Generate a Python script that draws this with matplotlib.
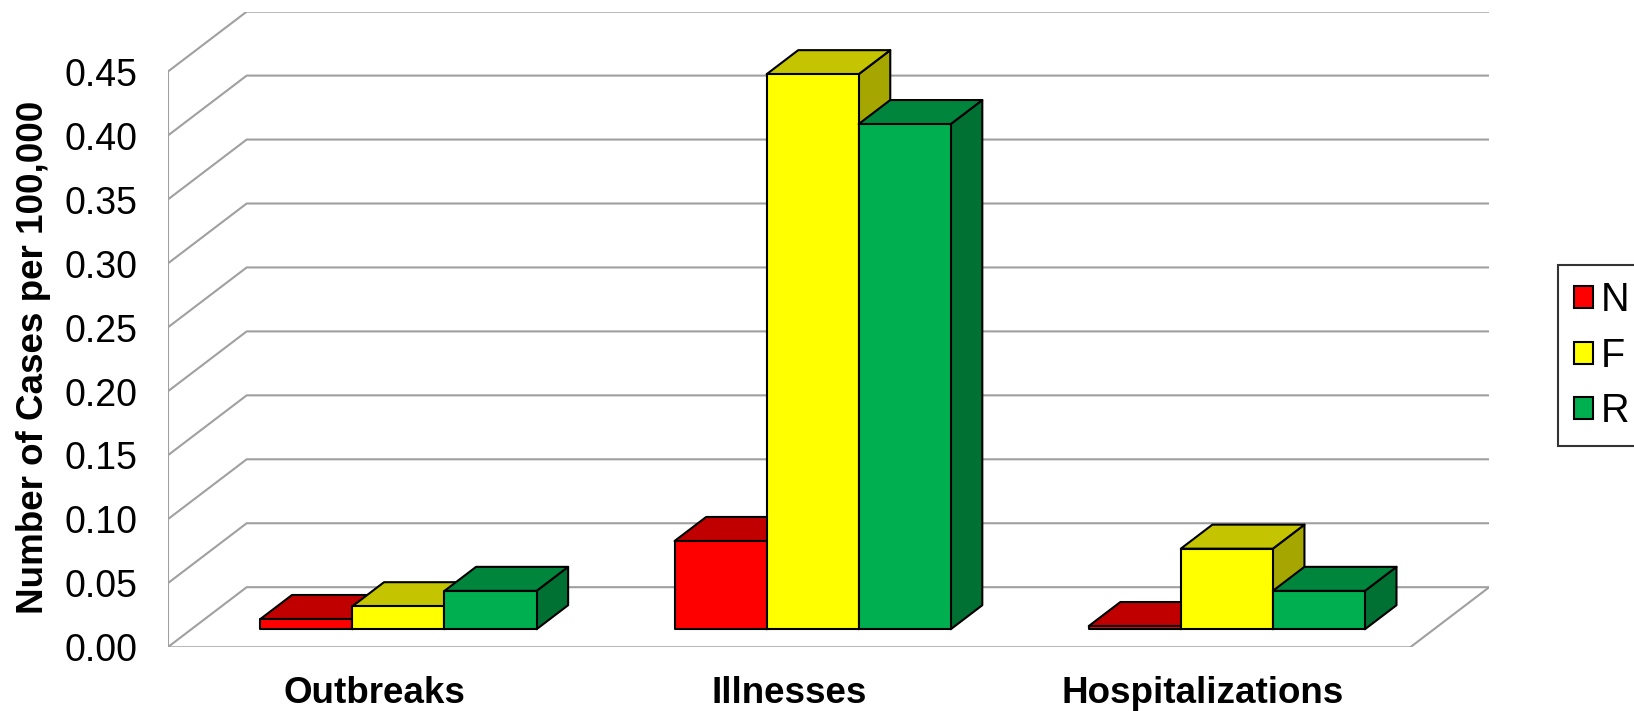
import numpy as np
import matplotlib
matplotlib.use("Agg")
import matplotlib.pyplot as plt
from matplotlib.patches import Polygon, Patch

categories = ["Outbreaks", "Illnesses", "Hospitalizations"]
series = ["N", "F", "R"]
n_vals = [0.008, 0.069, 0.0025]
f_vals = [0.018, 0.434, 0.063]
r_vals = [0.030, 0.395, 0.030]
yticks = [0.00, 0.05, 0.10, 0.15, 0.20, 0.25, 0.30, 0.35, 0.40, 0.45]

# front / top / side shades per series
colors = {
    "N": ("#FF0000", "#C00000", "#A00000"),
    "F": ("#FFFF00", "#C4C400", "#A6A600"),
    "R": ("#00B050", "#00853C", "#007033"),
}

plt.rcParams["font.family"] = ["Liberation Sans", "DejaVu Sans"]

# fake 3d: oblique offset of the full depth, in data units
DX = 0.1908
DY = 0.047
Z0, Z1 = 0.3, 0.7
bar_w = 2 / 9
grid_col = "#A0A0A0"

fig = plt.figure(figsize=(16.34, 7.11), dpi=100)
ax = fig.add_axes([0.1026, 0.0896, 0.8088, 0.8940])
ax.set_xlim(0, 3 + DX)
ax.set_ylim(0, yticks[-1] + DY)
for s in ax.spines.values():
    s.set_visible(False)

# walls and floor
for v in yticks:
    ax.plot([0, DX, 3 + DX], [v, v + DY, v + DY], color=grid_col, lw=1.5, zorder=1)
ax.plot([0, 0], [0, yticks[-1]], color=grid_col, lw=1.5, zorder=1)
ax.plot([0, 3, 3 + DX], [0, 0, DY], color=grid_col, lw=1.5, zorder=1)

# bars
dx, dy = (Z1 - Z0) * DX, (Z1 - Z0) * DY
for i in range(len(categories)):
    for k, (name, vals) in enumerate(zip(series, [n_vals, f_vals, r_vals])):
        x0 = i + 1 / 6 + k * bar_w + Z0 * DX
        x1 = x0 + bar_w
        y0 = Z0 * DY
        y1 = y0 + vals[i]
        front, top, side = colors[name]
        ec = dict(edgecolor="black", lw=1.5, joinstyle="round", zorder=3)
        ax.add_patch(Polygon([(x1, y0), (x1 + dx, y0 + dy), (x1 + dx, y1 + dy), (x1, y1)],
                             facecolor=side, **ec))
        ax.add_patch(Polygon([(x0, y1), (x0 + dx, y1 + dy), (x1 + dx, y1 + dy), (x1, y1)],
                             facecolor=top, **ec))
        ax.add_patch(Polygon([(x0, y0), (x1, y0), (x1, y1), (x0, y1)],
                             facecolor=front, **ec))

ax.set_yticks(yticks)
ax.set_yticklabels([f"{v:.2f}" for v in yticks], fontsize=27)
ax.set_xticks(np.arange(len(categories)) + 0.5)
ax.set_xticklabels(categories, fontsize=26.5, fontweight="bold")
ax.tick_params(axis="y", length=0, pad=22)
ax.tick_params(axis="x", length=0, pad=21)

fig.text(0.0205, 1 - 357 / 711, "Number of Cases per 100,000", rotation=90,
         fontsize=26.5, fontweight="bold", ha="center", va="center")

handles = [Patch(facecolor=colors[s][0], edgecolor="black", lw=1.5) for s in series]
leg = ax.legend(handles, series, loc="upper left", bbox_to_anchor=(0.9533, 0.6273),
                bbox_transform=fig.transFigure, borderaxespad=0, fontsize=28.5,
                handlelength=0.48, handleheight=0.48, handletextpad=0.22,
                labelspacing=0.45, borderpad=0.4, fancybox=False)
leg.get_frame().set_edgecolor("black")
leg.get_frame().set_linewidth(1.5)

fig.savefig("out.png", dpi=100)
